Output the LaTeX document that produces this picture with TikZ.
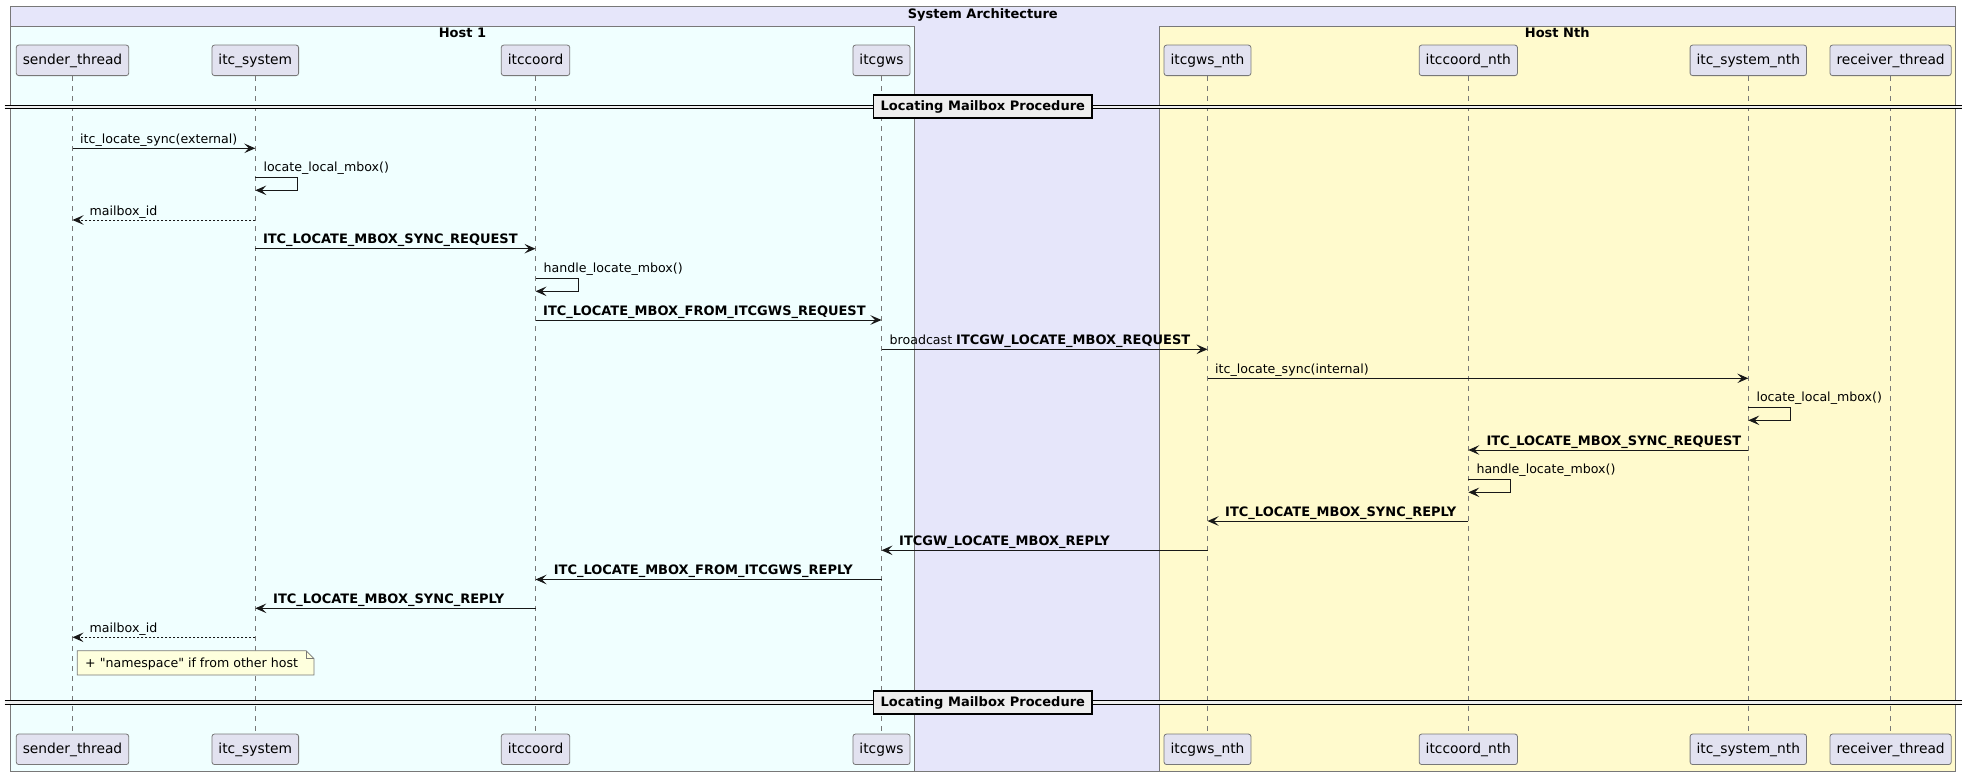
\documentclass[tikz,border=0pt]{standalone}
\usepackage{fontspec}
\setmainfont{DejaVu Sans}
\newfontfamily\notefont{DejaVu Sans}[Ligatures=ResetAll]
\usetikzlibrary{arrows.meta}
\definecolor{lav}{RGB}{230,230,250}
\definecolor{azu}{RGB}{240,255,255}
\definecolor{lem}{RGB}{255,250,205}
\definecolor{partfill}{RGB}{226,226,240}
\definecolor{bord}{RGB}{120,120,120}
\definecolor{ink}{RGB}{24,24,24}
\definecolor{notefill}{RGB}{254,255,221}
\definecolor{divfill}{RGB}{238,238,238}
\tikzset{
  part/.style={draw=bord, fill=partfill, rounded corners=2.5pt, line width=0.8pt,
    minimum height=30.5pt, inner xsep=6.5pt, inner ysep=0pt,
    text height=10.5pt, text depth=2.5pt,
    font=\fontsize{13.8}{16}\selectfont, text=black},
  life/.style={draw=bord, line width=0.7pt, dash pattern=on 5pt off 5pt},
  msg/.style={draw=ink, line width=1pt, -{Stealth[length=11pt,width=9.5pt,inset=4.5pt]}},
  ret/.style={msg, dash pattern=on 2pt off 2pt},
  lbl/.style={anchor=base west, inner sep=0pt, font=\fontsize{12.6}{15}\selectfont},
  blbl/.style={lbl, font=\fontsize{13}{15}\selectfont\bfseries},
  hostbox/.style={draw=bord, line width=0.8pt},
  boxtitle/.style={anchor=base, inner sep=0pt, font=\fontsize{13}{15}\selectfont\bfseries},
  divbox/.style={draw=black, line width=1.6pt, fill=divfill,
    font=\fontsize{13}{15}\selectfont\bfseries, minimum height=23.5pt,
    inner xsep=7pt, inner ysep=0pt},
  divline/.style={draw=black, line width=0.9pt},
  notebox/.style={draw=bord, fill=notefill, line width=0.7pt},
}
\begin{document}
\begin{tikzpicture}[x=1pt,y=-1pt]
\useasboundingbox (0,0) rectangle (1967,776);
\fill[white] (0,0) rectangle (1967,776);
% boxes
\filldraw[hostbox, fill=lav] (10.7,6.7) rectangle (1955,771.5);
\filldraw[hostbox, fill=azu] (10.7,26) rectangle (914.3,771.5);
\filldraw[hostbox, fill=lem] (1159.4,26) rectangle (1955,771.5);
\node[boxtitle] (tSA) at (982.8,18.2) {System Architecture};
\node[boxtitle] (tH1) at (462.5,37.3) {Host 1};
\node[boxtitle] (tHN) at (1557.2,37.3) {Host Nth};
% participants
\node[part] (pS)  at (72.5,60.35)   {sender\_thread};
\node[part] (pY)  at (255.3,60.35)  {itc\_system};
\node[part] (pC)  at (535.5,60.35)  {itccoord};
\node[part] (pG)  at (881.5,60.35)  {itcgws};
\node[part] (pGN) at (1207.5,60.35) {itcgws\_nth};
\node[part] (pCN) at (1468.3,60.35) {itccoord\_nth};
\node[part] (pYN) at (1748.3,60.35) {itc\_system\_nth};
\node[part] (pR)  at (1890.6,60.35) {receiver\_thread};
\node[part] (qS)  at (72.5,749.3)   {sender\_thread};
\node[part] (qY)  at (255.3,749.3)  {itc\_system};
\node[part] (qC)  at (535.5,749.3)  {itccoord};
\node[part] (qG)  at (881.5,749.3)  {itcgws};
\node[part] (qGN) at (1207.5,749.3) {itcgws\_nth};
\node[part] (qCN) at (1468.3,749.3) {itccoord\_nth};
\node[part] (qYN) at (1748.3,749.3) {itc\_system\_nth};
\node[part] (qR)  at (1890.6,749.3) {receiver\_thread};
% lifelines
\foreach \n in {S,Y,C,G,GN,CN,YN,R} { \draw[life] (p\n.south) -- (q\n.north); }
% dividers
\fill[divfill] (4.5,105) rectangle (1962,108.5);
\draw[divline] (4.5,105) -- (1962,105) (4.5,108.5) -- (1962,108.5);
\node[divbox] (d1) at (982.8,106.5) {Locating Mailbox Procedure};
\fill[divfill] (4.5,700.5) rectangle (1962,704);
\draw[divline] (4.5,700.5) -- (1962,700.5) (4.5,704) -- (1962,704);
\node[divbox] (d2) at (982.8,702.5) {Locating Mailbox Procedure};
% messages
\draw[msg] (pS |- 0,148.3) -- (pY |- 0,148.3);
\node[lbl] (l1) at (80,143.3) {itc\_locate\_sync(external)};
\draw[msg] (pY |- 0,177) -- ++(42.5,0) -- ++(0,13.3) -- (pY |- 0,190.3);
\node[lbl] (l2) at (263.3,171) {locate\_local\_mbox()};
\draw[ret] (pY |- 0,220) -- (pS |- 0,220);
\node[lbl] (l3) at (89.5,215) {mailbox\_id};
\draw[msg] (pY |- 0,248.7) -- (pC |- 0,248.7);
\node[blbl] (l4) at (262.8,243.7) {ITC\_LOCATE\_MBOX\_SYNC\_REQUEST};
\draw[msg] (pC |- 0,278.3) -- ++(42.5,0) -- ++(0,13) -- (pC |- 0,291.3);
\node[lbl] (l5) at (543.5,272.3) {handle\_locate\_mbox()};
\draw[msg] (pC |- 0,320) -- (pG |- 0,320);
\node[blbl] (l6) at (543,315) {ITC\_LOCATE\_MBOX\_FROM\_ITCGWS\_REQUEST};
\draw[msg] (pG |- 0,349.3) -- (pGN |- 0,349.3);
\node[lbl] (l7) at (889.5,344.3) {broadcast {\fontsize{13}{15}\selectfont\bfseries ITCGW\_LOCATE\_MBOX\_REQUEST}};
\draw[msg] (pGN |- 0,378.3) -- (pYN |- 0,378.3);
\node[lbl] (l8) at (1215,373.3) {itc\_locate\_sync(internal)};
\draw[msg] (pYN |- 0,407.3) -- ++(42.5,0) -- ++(0,13) -- (pYN |- 0,420.3);
\node[lbl] (l9) at (1756.3,401.3) {locate\_local\_mbox()};
\draw[msg] (pYN |- 0,450) -- (pCN |- 0,450);
\node[blbl] (l10) at (1486.3,445) {ITC\_LOCATE\_MBOX\_SYNC\_REQUEST};
\draw[msg] (pCN |- 0,479.3) -- ++(42.5,0) -- ++(0,13) -- (pCN |- 0,492.3);
\node[lbl] (l11) at (1476.3,473.3) {handle\_locate\_mbox()};
\draw[msg] (pCN |- 0,521) -- (pGN |- 0,521);
\node[blbl] (l12) at (1225,516) {ITC\_LOCATE\_MBOX\_SYNC\_REPLY};
\draw[msg] (pGN |- 0,550.3) -- (pG |- 0,550.3);
\node[blbl] (l13) at (899,545.3) {ITCGW\_LOCATE\_MBOX\_REPLY};
\draw[msg] (pG |- 0,579.5) -- (pC |- 0,579.5);
\node[blbl] (l14) at (553.6,574.5) {ITC\_LOCATE\_MBOX\_FROM\_ITCGWS\_REPLY};
\draw[msg] (pC |- 0,608.3) -- (pY |- 0,608.3);
\node[blbl] (l15) at (273,603.3) {ITC\_LOCATE\_MBOX\_SYNC\_REPLY};
\draw[ret] (pY |- 0,637.3) -- (pS |- 0,637.3);
\node[lbl] (l16) at (89.5,632.3) {mailbox\_id};
% note
\draw[notebox] (77.3,650.7) -- (306,650.7) -- (314,658.7) -- (314,675) -- (77.3,675) -- cycle;
\draw[notebox, fill=none] (306,650.7) -- (306,658.7) -- (314,658.7);
\node[lbl, font=\fontsize{12.6}{15}\notefont] (nt) at (85,667.3) {+ "namespace" if from other host};
\end{tikzpicture}
\end{document}
